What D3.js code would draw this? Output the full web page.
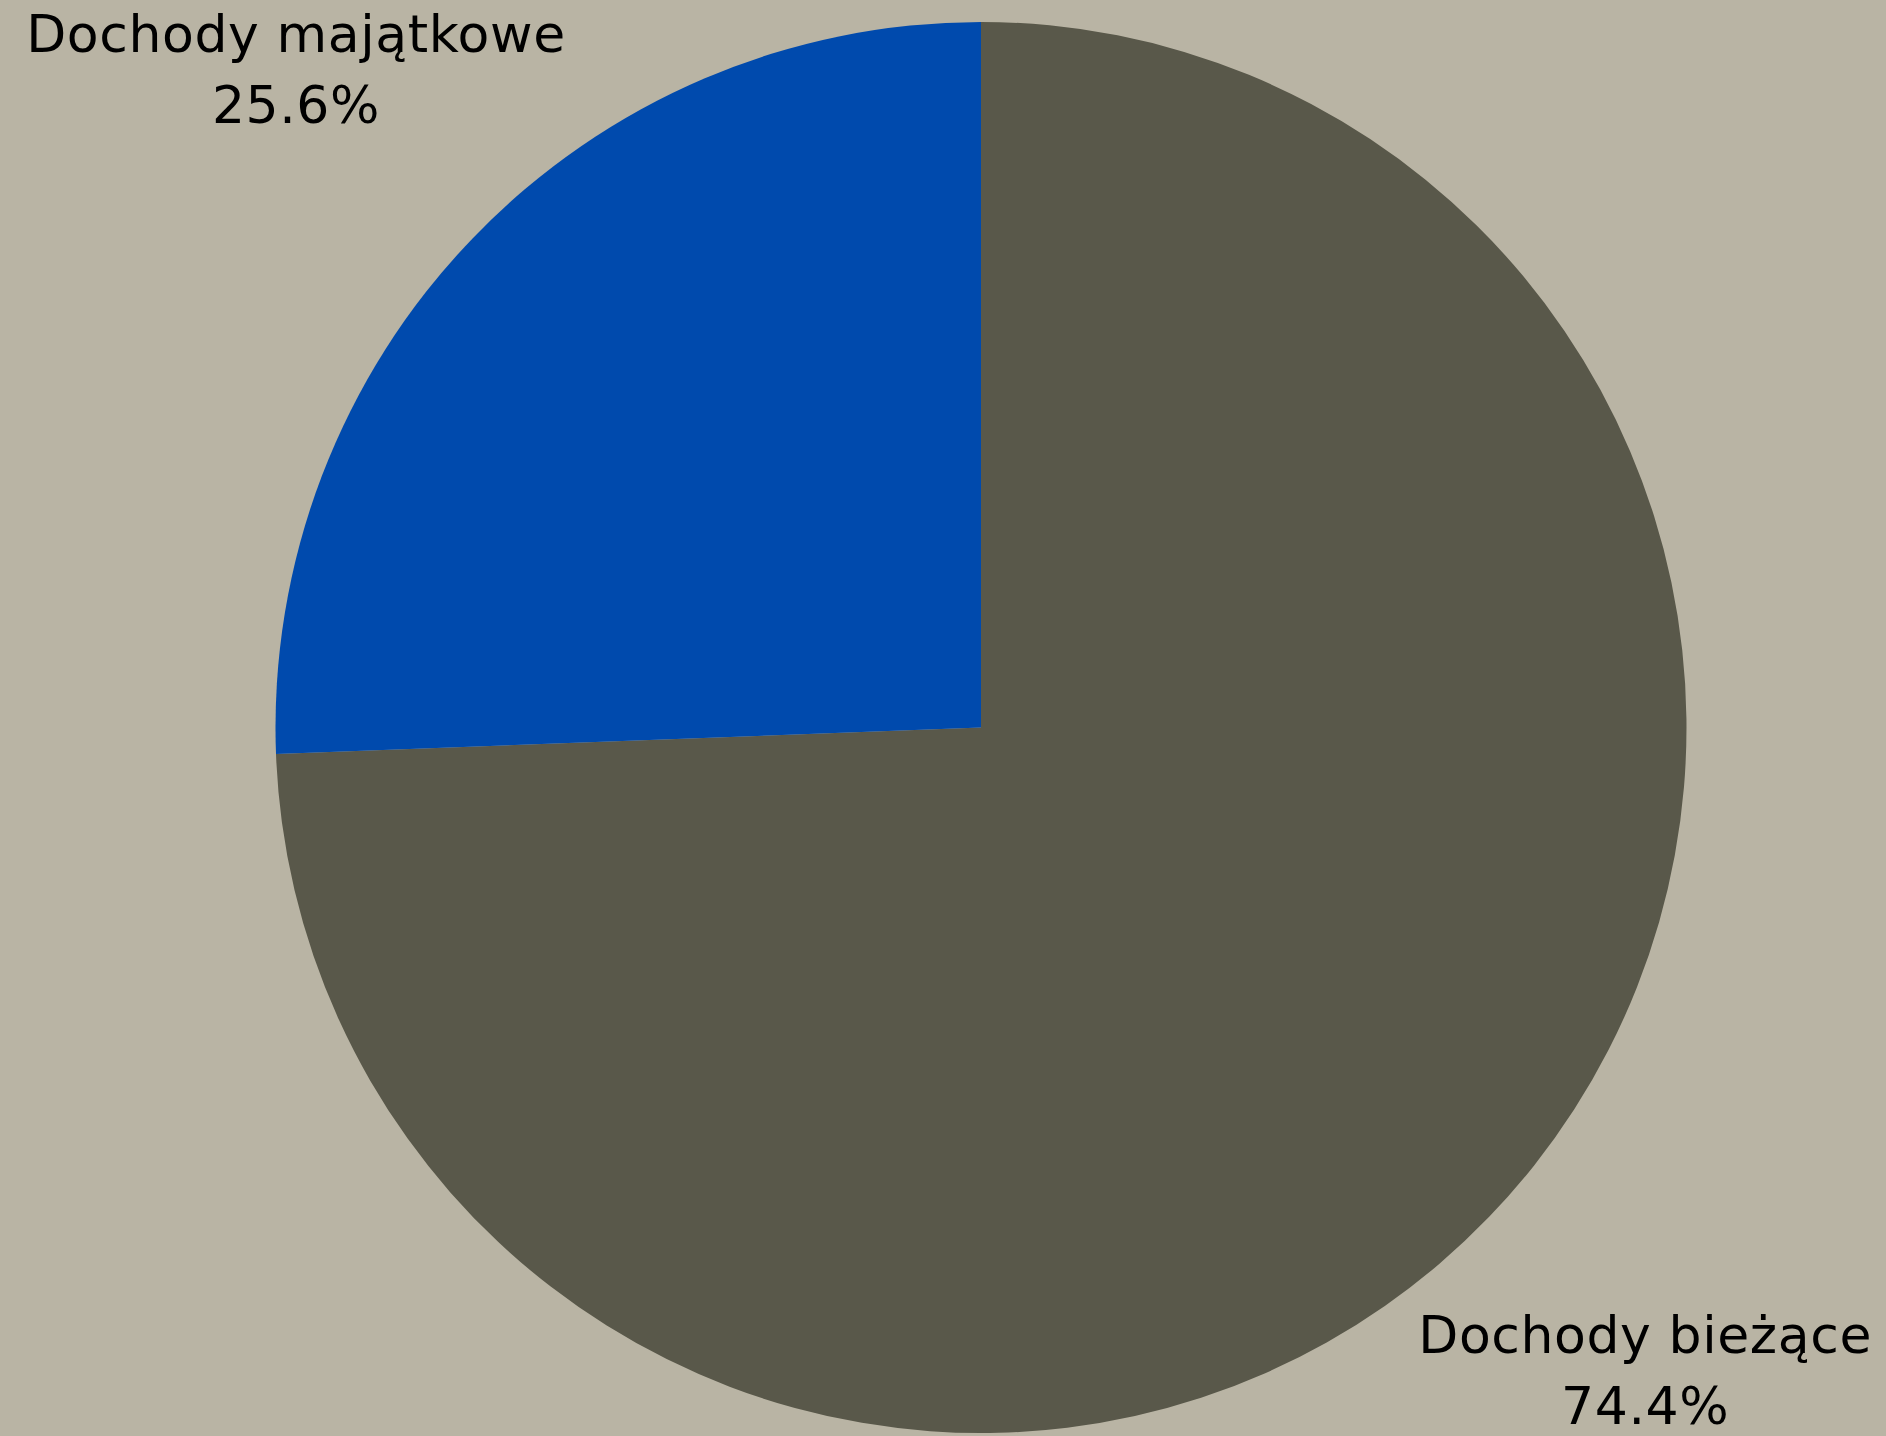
<!DOCTYPE html>
<html>
<head>
<meta charset="utf-8">
<script src="https://cdn.jsdelivr.net/npm/d3@7"></script>
<style>
  html, body { margin: 0; padding: 0; background: #b9b4a4; }
  svg { display: block; }
</style>
</head>
<body>
<div id="svgContainer"></div>
<script>
const categories = ["Dochody bieżące", "Dochody majątkowe"];
const shares = [74.4, 25.6];
const colors = ["#59584a", "#004aad"];

const width = 1886;
const height = 1436;
const cx = 981;
const cy = 727.5;
const radius = 705.5;
const labelRadius = 951;
const fontSize = 52;
const lineGap = 71;
const capH = 37;

const pieData = categories.map((name, i) => ({ name, value: shares[i], color: colors[i] }));

const svg = d3
  .select("#svgContainer")
  .append("svg")
  .attr("width", width)
  .attr("height", height);

svg.append("rect")
  .attr("width", width)
  .attr("height", height)
  .attr("fill", "#b9b4a4");

const g = svg.append("g").attr("transform", `translate(${cx},${cy})`);

const pie = d3.pie().sort(null).value((d) => d.value);
const path = d3.arc().outerRadius(radius).innerRadius(0);
const labelArc = d3.arc().outerRadius(labelRadius).innerRadius(labelRadius);

const arcs = pie(pieData);

g.selectAll(".slice")
  .data(arcs)
  .enter()
  .append("path")
  .attr("class", "slice")
  .attr("d", path)
  .attr("fill", (d) => d.data.color);

// labels outside the pie, kept inside the canvas
arcs.forEach((d) => {
  let [x, y] = labelArc.centroid(d);
  x += cx;
  y += cy;

  const label = svg.append("text")
    .attr("text-anchor", "middle")
    .style("font-family", "'DejaVu Sans', sans-serif")
    .style("font-size", fontSize + "px")
    .style("letter-spacing", "0.6px")
    .style("fill", "#000");

  const l1 = label.append("tspan").text(d.data.name);
  const l2 = label.append("tspan").text(d.data.value.toFixed(1) + "%");

  const w = Math.max(l1.node().getComputedTextLength(), l2.node().getComputedTextLength());
  const pad = 14;
  x = Math.max(pad + w / 2, Math.min(width - pad - w / 2, x));

  // y = middle of the block (cap top of line 1 to baseline of line 2)
  let base1 = y - lineGap / 2 + capH / 2;
  base1 = Math.max(15 + capH, Math.min(height - 12 - lineGap, base1));

  l1.attr("x", x).attr("y", base1);
  l2.attr("x", x).attr("y", base1 + lineGap);
});
</script>
</body>
</html>
